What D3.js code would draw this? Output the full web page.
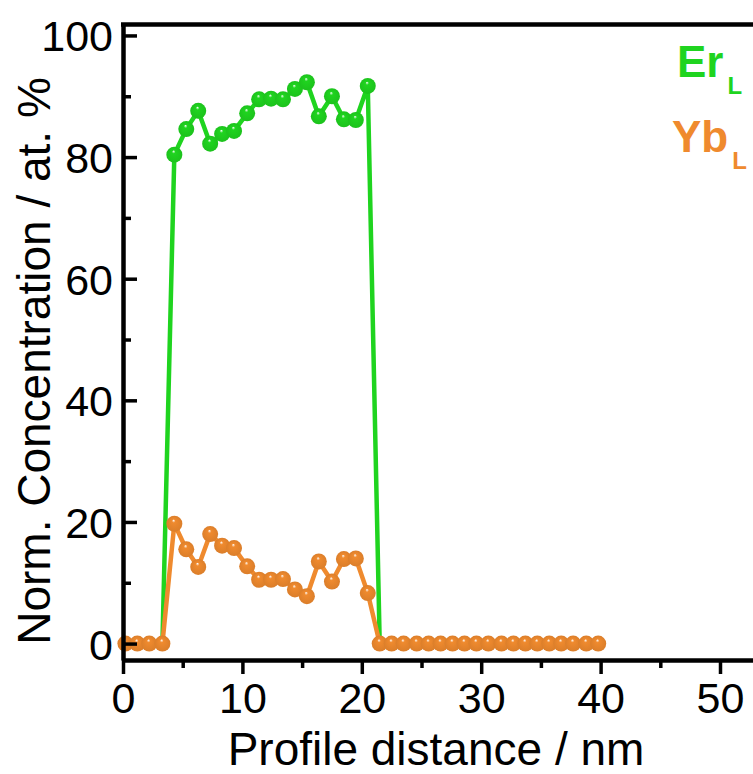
<!DOCTYPE html>
<html>
<head>
<meta charset="utf-8">
<script src="https://cdn.jsdelivr.net/npm/d3@7"></script>
<style>
  body { margin: 0; background: #fff; }
  svg { display: block; font-family: "Liberation Sans", Arial, sans-serif; }
</style>
</head>
<body>
<div class="canvas"></div>
<script>
// data
const distance = [0.2, 1.2, 2.2, 3.3, 4.3, 5.3, 6.3, 7.3, 8.3, 9.3,
                  10.4, 11.4, 12.4, 13.4, 14.4, 15.4, 16.4, 17.5, 18.5, 19.5,
                  20.5, 21.5, 22.5, 23.5, 24.6, 25.6, 26.6, 27.6, 28.6, 29.6,
                  30.6, 31.7, 32.7, 33.7, 34.7, 35.7, 36.7, 37.7, 38.8, 39.8];
const erL = [0, 0, 0, 0, 80.4, 84.6, 87.6, 82.2, 83.8, 84.3,
             87.2, 89.5, 89.6, 89.5, 91.2, 92.3, 86.7, 90.0, 86.2, 86.1,
             91.7, 0, 0, 0, 0, 0, 0, 0, 0, 0,
             0, 0, 0, 0, 0, 0, 0, 0, 0, 0];
const ybL = [0, 0, 0, 0, 19.7, 15.5, 12.6, 18.0, 16.1, 15.7,
             12.7, 10.5, 10.5, 10.6, 8.9, 7.8, 13.5, 10.2, 13.9, 14.0,
             8.3, 0, 0, 0, 0, 0, 0, 0, 0, 0,
             0, 0, 0, 0, 0, 0, 0, 0, 0, 0];
const xTicks = [0, 10, 20, 30, 40, 50];
const yTicks = [0, 20, 40, 60, 80, 100];

const width = 753, height = 774;
const green = '#1fd41f', orange = '#ef8a2e';

const svg = d3.select('.canvas')
    .append('svg')
    .attr('width', width)
    .attr('height', height);

//scales
const x = d3.scaleLinear().domain([0, 55]).range([123, 779.7]);
const y = d3.scaleLinear().domain([-2.7, 101.8]).range([660, 24.5]);

// sphere gradients
const defs = svg.append('defs');
const sphere = (id, col) => {
    const g = defs.append('radialGradient')
        .attr('id', id)
        .attr('cx', '0.5').attr('cy', '0.5').attr('r', '0.5')
        .attr('fx', '0.45').attr('fy', '0.28');
    g.append('stop').attr('offset', '0%').attr('stop-color', '#fff');
    g.append('stop').attr('offset', '22%').attr('stop-color', col);
    g.append('stop').attr('offset', '100%').attr('stop-color', d3.color(col).darker(0.25));
};
sphere('gGreen', green);
sphere('gOrange', orange);

const data = distance.map((d, i) => ({ x: d, er: erL[i], yb: ybL[i] }));

// line generators
const lineEr = d3.line().x(d => x(d.x)).y(d => y(d.er));
const lineYb = d3.line().x(d => x(d.x)).y(d => y(d.yb));

const plot = svg.append('g');

plot.append('path').datum(data)
    .attr('fill', 'none').attr('stroke', green).attr('stroke-width', 4.5)
    .attr('d', lineEr);
plot.selectAll('circle.er')
    .data(data.filter(d => d.er > 0))
    .enter().append('circle')
    .attr('class', 'er')
    .attr('cx', d => x(d.x)).attr('cy', d => y(d.er))
    .attr('r', 8)
    .attr('fill', 'url(#gGreen)');

plot.append('path').datum(data)
    .attr('fill', 'none').attr('stroke', orange).attr('stroke-width', 4.5)
    .attr('d', lineYb);
plot.selectAll('circle.yb')
    .data(data)
    .enter().append('circle')
    .attr('class', 'yb')
    .attr('cx', d => x(d.x)).attr('cy', d => y(d.yb))
    .attr('r', 8)
    .attr('fill', 'url(#gOrange)');

// frame
const x0 = x.range()[0], x1 = x.range()[1];
const yb0 = y.range()[0], yt = y.range()[1];
svg.append('line')
    .attr('x1', x0 - 2).attr('x2', x1).attr('y1', yt).attr('y2', yt)
    .attr('stroke', '#000').attr('stroke-width', 4.5);

//axis
const xAxis = d3.axisBottom(x)
    .tickValues(d3.range(0, 55, 5))
    .tickSizeInner(0).tickSizeOuter(0)
    .tickFormat('');
const xAxisGroup = svg.append('g')
    .attr('transform', `translate(0,${yb0})`)
    .call(xAxis);
xAxisGroup.select('.domain').attr('stroke-width', 4.5);
xAxisGroup.selectAll('.tick line')
    .attr('stroke-width', 3.5)
    .attr('y2', d => xTicks.includes(d) ? 14 : 8);
xAxisGroup.selectAll('.tick')
    .filter(d => xTicks.includes(d))
    .append('text')
    .attr('y', 53)
    .attr('fill', '#000')
    .attr('font-size', 43)
    .attr('text-anchor', 'middle')
    .text(d => d);

const yAxis = d3.axisLeft(y)
    .tickValues(d3.range(0, 101, 10))
    .tickSizeInner(0).tickSizeOuter(0)
    .tickFormat('');
const yAxisGroup = svg.append('g')
    .attr('transform', `translate(${x0},0)`)
    .call(yAxis);
yAxisGroup.select('.domain').attr('stroke-width', 4.5);
yAxisGroup.selectAll('.tick line')
    .attr('stroke-width', 3.5)
    .attr('x2', d => yTicks.includes(d) ? 14 : 8);
yAxisGroup.selectAll('.tick')
    .filter(d => yTicks.includes(d))
    .append('text')
    .attr('x', -10)
    .attr('dy', '0.36em')
    .attr('fill', '#000')
    .attr('font-size', 43)
    .attr('text-anchor', 'end')
    .text(d => d);

// axis titles
svg.append('text')
    .attr('x', 436).attr('y', 765)
    .attr('text-anchor', 'middle')
    .attr('font-size', 46)
    .text('Profile distance / nm');
svg.append('text')
    .attr('transform', 'translate(50,361) rotate(-90)')
    .attr('text-anchor', 'middle')
    .attr('font-size', 46)
    .text('Norm. Concentration / at. %');

// legend
const legend = [
    { name: 'Er', col: green, x: 677, y: 77 },
    { name: 'Yb', col: orange, x: 672, y: 152 }
];
legend.forEach(l => {
    const t = svg.append('text')
        .attr('x', l.x).attr('y', l.y)
        .attr('fill', l.col)
        .attr('font-weight', 'bold')
        .attr('font-size', 44);
    t.append('tspan').text(l.name);
    t.append('tspan').attr('dx', 4).attr('dy', 17).attr('font-size', 24).text('L');
});
</script>
</body>
</html>
